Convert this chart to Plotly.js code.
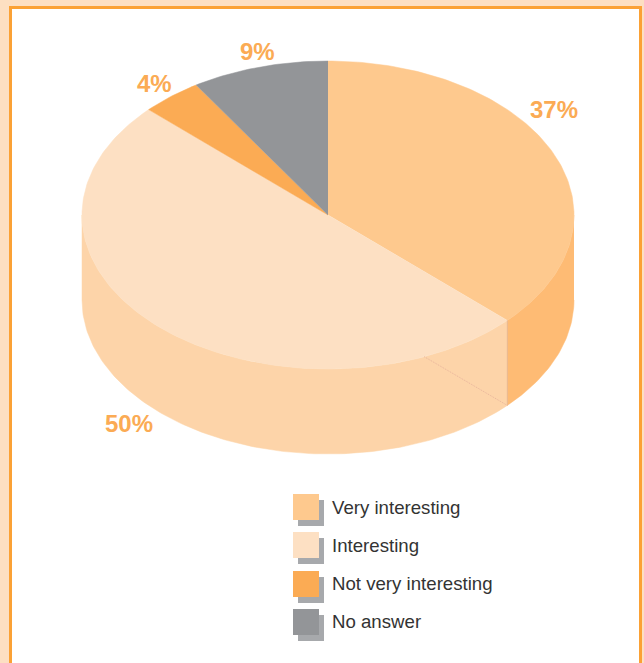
<!DOCTYPE html>
<html>
<head>
<meta charset="utf-8">
<script src="https://cdn.plot.ly/plotly-3.0.1.min.js"></script>
<style>html,body{margin:0;padding:0;background:#FDDFC2;overflow:hidden}</style>
</head>
<body>
<div id="chart" style="width:644px;height:663px"></div>
<script>
// Survey answers and their shares, in percent, clockwise from twelve o'clock
const categories = ["Very interesting", "Interesting", "Not very interesting", "No answer"];
const shares = [37, 50, 4, 9];
const topColors = ["#FEC98E", "#FDE0C3", "#FBAB54", "#939598"];
const sideColors = ["#FEBB74", "#FDD4A9", "#FBA040", "#808285"];

// Disc geometry in page pixels
const cx = 328, cy = 215, rx = 246, ry = 154, depth = 85;
const rimPoint = (deg, drop) => {
  const a = deg * Math.PI / 180;
  return [cx + rx * Math.sin(a), cy - ry * Math.cos(a) + drop];
};
const arc = (from, to, drop) => {
  const pts = [], n = Math.max(2, Math.ceil(Math.abs(to - from)));
  for (let i = 0; i <= n; i++) pts.push(rimPoint(from + (to - from) * i / n, drop));
  return pts;
};
const polygon = (pts, color) => ({
  type: "scatter", mode: "lines", fill: "toself", fillcolor: color,
  x: pts.map(p => p[0]), y: pts.map(p => p[1]),
  line: {color: color, width: 0.5}, hoverinfo: "skip", showlegend: false
});

const traces = [];
let start = 0;
shares.forEach((s, i) => {
  const end = start + s * 3.6;
  // Only the part of the wall between 90 and 270 degrees faces the viewer
  const wallFrom = Math.max(start, 90), wallTo = Math.min(end, 270);
  if (wallTo > wallFrom) {
    const wall = arc(wallFrom, wallTo, 0).concat(arc(wallTo, wallFrom, depth));
    traces.push(polygon(wall, sideColors[i]));
  }
  traces.push(polygon([[cx, cy]].concat(arc(start, end, 0)), topColors[i]));
  start = end;
});

// Edge where the first two slices meet on the wall, plus the faint seam beside it
const edgeAngle = shares[0] * 3.6;
const seamAngle = 43.6 * 3.6;
const edgeTop = rimPoint(edgeAngle, 0), edgeBottom = rimPoint(edgeAngle, depth);
const seamStart = rimPoint(seamAngle, 0);
traces.push({type: "scatter", mode: "lines", x: [edgeTop[0], edgeBottom[0]], y: [edgeTop[1], edgeBottom[1]],
  line: {color: "#E9B68F", width: 1}, hoverinfo: "skip", showlegend: false});
traces.push({type: "scatter", mode: "lines", x: [seamStart[0], edgeBottom[0]], y: [seamStart[1], edgeBottom[1]],
  line: {color: "#E8B49C", width: 1, dash: "1px,1px"}, hoverinfo: "skip", showlegend: false});

// Percent labels beside the slices
const labelX = [554, 129, 154, 257];
const labelY = [109, 423, 83, 51];
const annotations = shares.map((s, i) => ({
  x: labelX[i], y: labelY[i], xref: "x", yref: "y", text: s + "%", showarrow: false,
  font: {family: "Liberation Sans, Arial, sans-serif", size: 24, color: "#FBAB54", weight: 700}
}));

// Legend: swatch with a grey drop shadow, name to its right
const legendTop = [494, 532, 571, 609];
const legendTextY = [507.5, 545.5, 583.5, 621.5];
const shapes = [{
  type: "rect", xref: "x", yref: "y", x0: 10.5, y0: 7.5, x1: 640.5, y1: 680,
  fillcolor: "#FFFFFF", line: {color: "#FBA135", width: 3}, layer: "below"
}];
categories.forEach((name, i) => {
  const t = legendTop[i];
  shapes.push({type: "rect", xref: "x", yref: "y", x0: 298, x1: 324, y0: t + 6, y1: t + 32,
    fillcolor: "#A7A9AC", line: {width: 0}, layer: "below"});
  shapes.push({type: "rect", xref: "x", yref: "y", x0: 293, x1: 319, y0: t, y1: t + 26,
    fillcolor: topColors[i], line: {width: 0}, layer: "below"});
  annotations.push({
    x: 331, y: legendTextY[i], xref: "x", yref: "y", xanchor: "left", yanchor: "middle", borderpad: 0,
    text: name, showarrow: false,
    font: {family: "Liberation Sans, Arial, sans-serif", size: 18.65, color: "#333333"}
  });
});

Plotly.newPlot("chart", traces, {
  width: 644, height: 663,
  margin: {l: 0, r: 0, t: 0, b: 0},
  paper_bgcolor: "#FDDFC2", plot_bgcolor: "rgba(0,0,0,0)",
  xaxis: {range: [0, 644], visible: false, fixedrange: true},
  yaxis: {range: [663, 0], visible: false, fixedrange: true},
  showlegend: false, shapes, annotations
}, {displayModeBar: false, staticPlot: true});
</script>
</body>
</html>
